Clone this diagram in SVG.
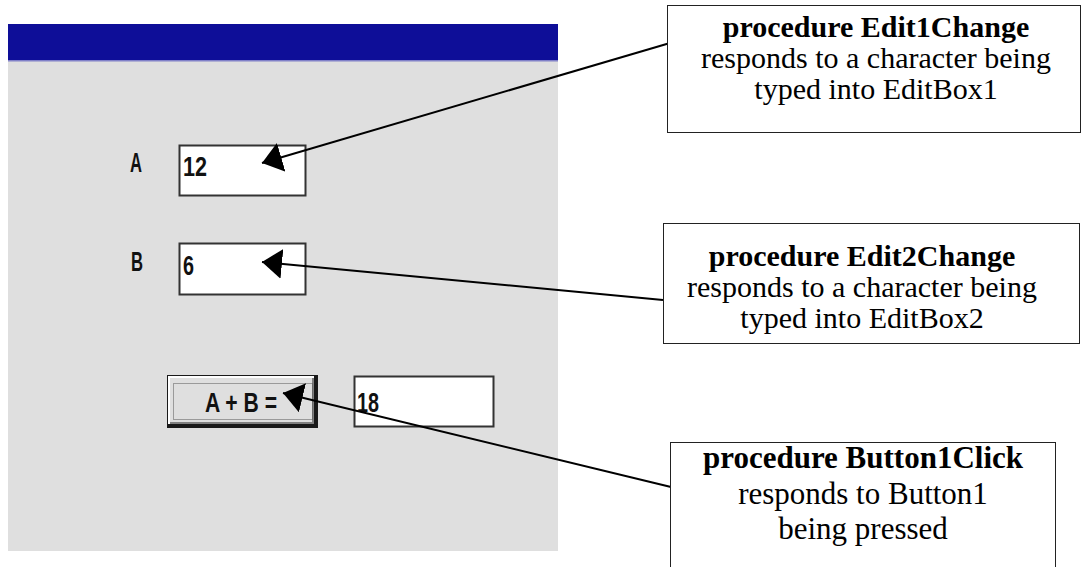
<svg xmlns="http://www.w3.org/2000/svg" width="1082" height="567" viewBox="0 0 1082 567">
<style>
.win{font-family:"Liberation Sans",Arial,sans-serif;font-size:27px;font-weight:bold;fill:#111}
.bt{font-family:"Liberation Serif","Times New Roman",serif;font-size:30px;font-weight:bold;fill:#000;text-anchor:middle}
.rt{font-family:"Liberation Serif","Times New Roman",serif;font-size:30px;fill:#000;text-anchor:middle}
.b3{font-size:31px}
.cb{fill:#fff;stroke:#222;stroke-width:1}
.ed{fill:#fff;stroke:#333;stroke-width:2}
.conn{stroke:#000;stroke-width:2;fill:none}
</style>
<defs>
<marker id="ah" markerUnits="userSpaceOnUse" markerWidth="20" markerHeight="30" refX="20" refY="15" orient="auto">
<path d="M0,0 L20,15 L0,30 Z" fill="#000"/>
</marker>
</defs>
<rect width="1082" height="567" fill="#fff"/>
<g id="window">
<rect x="8" y="24" width="550" height="527" fill="#dfdfdf"/>
<rect x="8" y="24" width="550" height="36" fill="#0e0e98"/>
<rect x="8" y="60" width="550" height="1.5" fill="#8080c8"/>
</g>
<g id="labelA"><text class="win" x="130" y="172" textLength="12" lengthAdjust="spacingAndGlyphs">A</text></g>
<g id="labelB"><text class="win" x="131" y="271" textLength="12" lengthAdjust="spacingAndGlyphs">B</text></g>
<g id="edit1">
<rect class="ed" x="179.5" y="145.5" width="126" height="50"/>
<text class="win" x="183" y="176" textLength="24" lengthAdjust="spacingAndGlyphs">12</text>
</g>
<g id="edit2">
<rect class="ed" x="179.5" y="243.5" width="126" height="51"/>
<text class="win" x="183" y="275" textLength="11" lengthAdjust="spacingAndGlyphs">6</text>
</g>
<g id="button1">
<rect x="167" y="375" width="151" height="53" fill="#1a1a1a"/>
<rect x="168" y="376" width="146" height="48" fill="#fff"/>
<rect x="170" y="378" width="144" height="46" fill="#808080"/>
<rect x="170" y="378" width="142" height="44" fill="#dfdfdf"/>
<rect x="173.5" y="383.5" width="139" height="36" fill="none" stroke="#555" stroke-width="1" stroke-dasharray="1,1"/>
<text class="win" x="205" y="412" textLength="72" lengthAdjust="spacingAndGlyphs">A + B =</text>
</g>
<g id="result">
<rect class="ed" x="354.5" y="376.5" width="139" height="50"/>
<text class="win" x="357" y="412" textLength="22" lengthAdjust="spacingAndGlyphs">18</text>
</g>
<g id="connectors">
<line class="conn" x1="670" y1="43" x2="262" y2="163" marker-end="url(#ah)"/>
<line class="conn" x1="663" y1="300" x2="262" y2="262" marker-end="url(#ah)"/>
<line class="conn" x1="671" y1="487" x2="283" y2="393" marker-end="url(#ah)"/>
</g>
<g id="box1">
<rect class="cb" x="667.5" y="5.5" width="413" height="127"/>
<text class="bt" x="876" y="37">procedure Edit1Change</text>
<text class="rt" x="876" y="68">responds to a character being</text>
<text class="rt" x="876" y="99">typed into EditBox1</text>
</g>
<g id="box2">
<rect class="cb" x="663.5" y="223.5" width="416" height="120"/>
<text class="bt" x="862" y="266">procedure Edit2Change</text>
<text class="rt" x="862" y="297">responds to a character being</text>
<text class="rt" x="862" y="328">typed into EditBox2</text>
</g>
<g id="box3">
<rect class="cb" x="670.5" y="442.5" width="385" height="140"/>
<text class="bt b3" x="863" y="468">procedure Button1Click</text>
<text class="rt b3" x="863" y="504">responds to Button1</text>
<text class="rt b3" x="863" y="539">being pressed</text>
</g>
</svg>
